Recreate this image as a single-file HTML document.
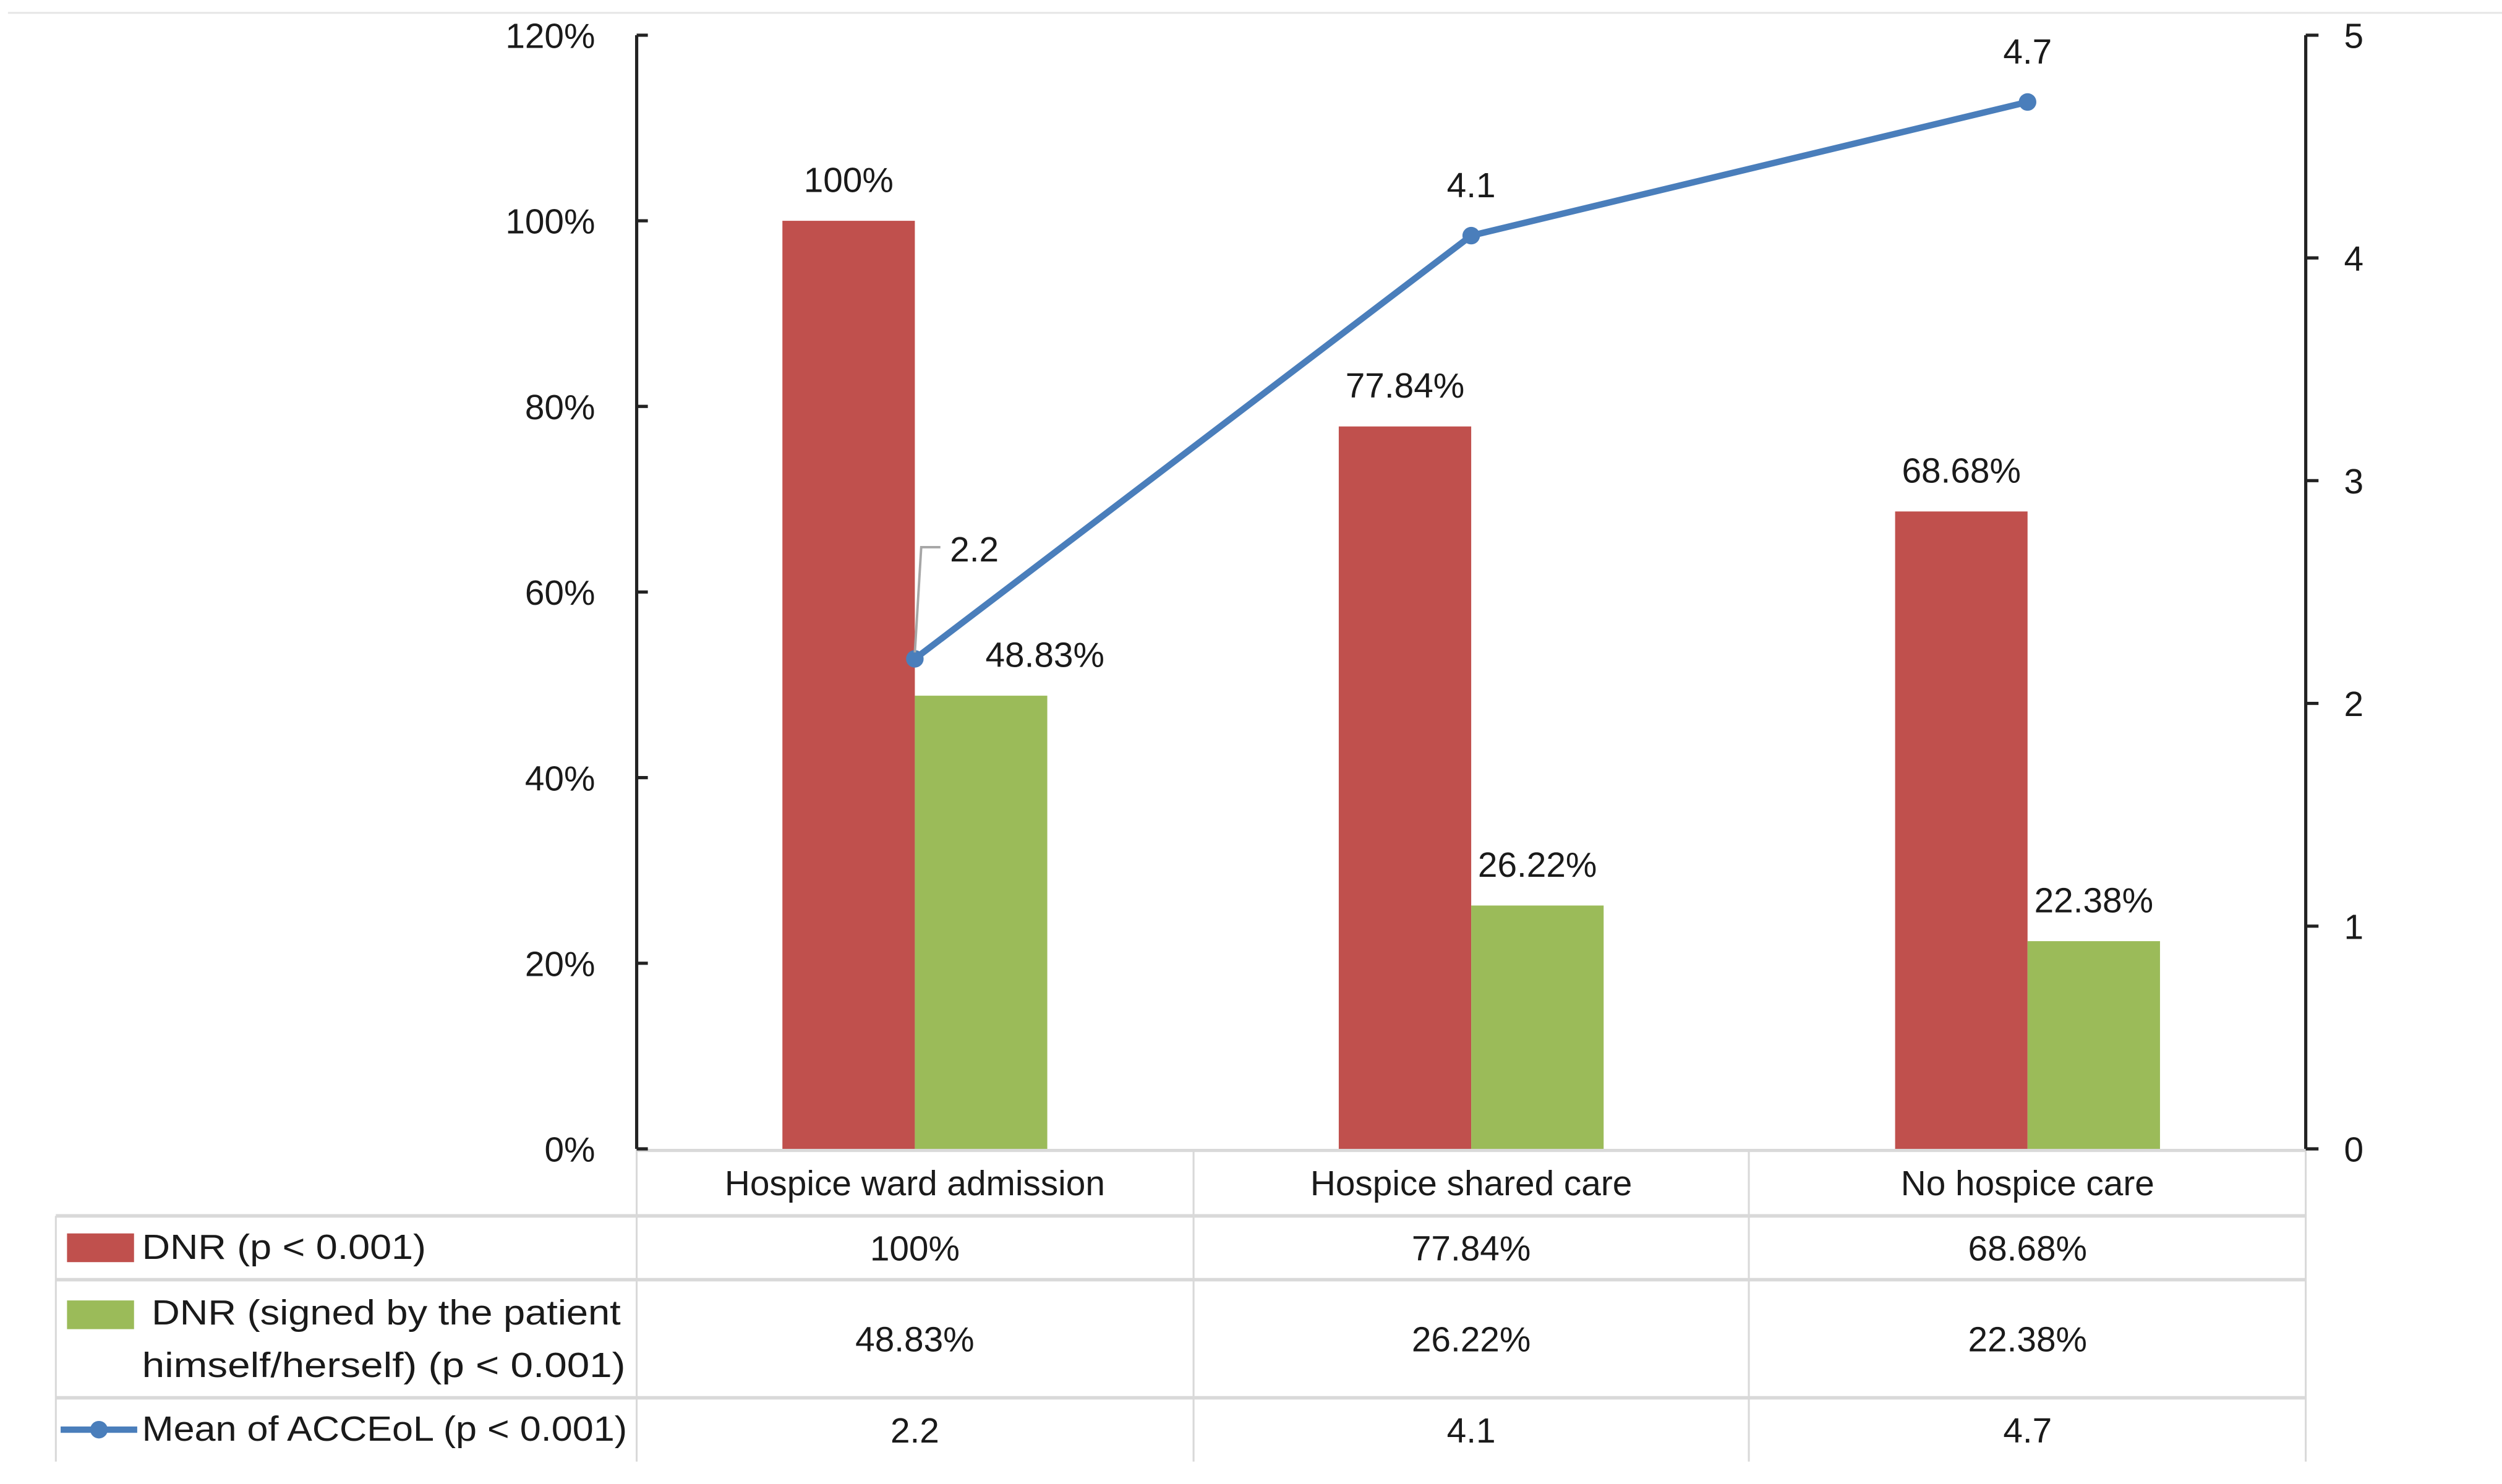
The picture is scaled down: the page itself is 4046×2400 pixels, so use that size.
<!DOCTYPE html>
<html><head><meta charset="utf-8"><style>
html,body{margin:0;padding:0;background:#fff;}
svg{display:block;}
text{font-family:"Liberation Sans",sans-serif;fill:#1a1a1a;}
</style></head><body>
<svg id="chart" width="4046" height="2400" viewBox="0 0 1568 930" xmlns="http://www.w3.org/2000/svg">
<line x1="5" y1="8" x2="1568" y2="8" stroke="#e6e6e6" stroke-width="1.2"/>
<g id="plot"></g>
</svg>
<script>
const categories = ["Hospice ward admission", "Hospice shared care", "No hospice care"];
const dnrValues = [100, 77.84, 68.68];
const dnrSelfValues = [48.83, 26.22, 22.38];
const acceolValues = [2.2, 4.1, 4.7];
const dnrLabels = ["100%", "77.84%", "68.68%"];
const dnrSelfLabels = ["48.83%", "26.22%", "22.38%"];
const acceolLabels = ["2.2", "4.1", "4.7"];
const leftTicks = [0, 20, 40, 60, 80, 100, 120];
const rightTicks = [0, 1, 2, 3, 4, 5];

const NS = "http://www.w3.org/2000/svg";
const g = document.getElementById('plot');
const X0 = 399, X1 = 1445, Y0 = 720, Y1 = 22;
const FS = 22;
const bw = (X1 - X0) / categories.length;
const yL = v => Y0 - (v / 120) * (Y0 - Y1);
const yR = v => Y0 - (v / 5) * (Y0 - Y1);
const xC = i => X0 + bw * (i + 0.5);
const barW = 83;
function mk(tag, attrs, parent) {
  const e = document.createElementNS(NS, tag);
  for (const k in attrs) e.setAttribute(k, attrs[k]);
  (parent || g).appendChild(e);
  return e;
}
function txt(s, x, y, anchor, size) {
  const t = mk('text', {x: x, y: y, 'text-anchor': anchor || 'middle', 'font-size': size || FS});
  t.textContent = s;
  return t;
}
// table grid
const grid = mk('g', {});


[762, 802, 876].forEach(y => {
  const l = mk('line', {x1: 35, y1: y, x2: X1, y2: y, stroke: '#d9d9d9', 'stroke-width': 2.2}, grid);
  
  
});
[35, 399, 748, 1096, 1445].forEach((x, i) => {
  const l = mk('line', {x1: x, y1: i === 0 ? 762 : 720, x2: x, y2: 916, stroke: '#d9d9d9', 'stroke-width': 1.2}, grid);
  
  
});
mk('line', {x1: X0, y1: Y0 + 1, x2: X1, y2: Y0 + 1, stroke: '#d9d9d9', 'stroke-width': 2}, grid);

// bars
categories.forEach((c, i) => {
  const r = mk('rect', {x: xC(i) - barW, y: yL(dnrValues[i]), width: barW, height: Y0 - yL(dnrValues[i]), fill: '#C0504D'});
  
  
  const r2 = mk('rect', {x: xC(i), y: yL(dnrSelfValues[i]), width: barW, height: Y0 - yL(dnrSelfValues[i]), fill: '#9BBB59'});
  
  
  const t1 = txt(dnrLabels[i], xC(i) - barW / 2, yL(dnrValues[i]) - 18);
  
  
  const t2 = txt(dnrSelfLabels[i], xC(i) + barW / 2 + (i === 0 ? 40 : 0), yL(dnrSelfValues[i]) - 18);
  
  
});

// axes
const ax = mk('line', {x1: X0, y1: Y1, x2: X0, y2: Y0, stroke: '#222', 'stroke-width': 2});


leftTicks.forEach(v => {
  mk('line', {x1: X0, y1: yL(v), x2: X0 + 7, y2: yL(v), stroke: '#222', 'stroke-width': 2});
  const t = txt(v + '%', 373, yL(v) + 8, 'end');
  
  
});
const ax2 = mk('line', {x1: X1, y1: Y1, x2: X1, y2: Y0, stroke: '#222', 'stroke-width': 2});


rightTicks.forEach(v => {
  mk('line', {x1: X1, y1: yR(v), x2: X1 + 8, y2: yR(v), stroke: '#222', 'stroke-width': 2});
  const t = txt(String(v), 1469, yR(v) + 8, 'start');
  
  
});

// line series
const pts = acceolValues.map((v, i) => xC(i) + ',' + yR(v)).join(' ');
const pl = mk('polyline', {points: pts, fill: 'none', stroke: '#4A7EBB', 'stroke-width': 4, 'stroke-linejoin': 'round'});


acceolValues.forEach((v, i) => {
  const c = mk('circle', {cx: xC(i), cy: yR(v), r: 5.5, fill: '#4A7EBB'});
  
  
  let t;
  if (i === 0) {
    mk('polyline', {points: xC(i) + ',' + (yR(v) - 4) + ' ' + (xC(i) + 4) + ',' + (yR(v) - 70) + ' ' + (xC(i) + 16) + ',' + (yR(v) - 70), fill: 'none', stroke: '#a6a6a6', 'stroke-width': 1.5});
    t = txt(acceolLabels[i], xC(i) + 22, yR(v) - 61, 'start');
  } else {
    t = txt(acceolLabels[i], xC(i), yR(v) - 24);
  }
  
  
});

// table text
categories.forEach((c, i) => {
  const t = txt(c, xC(i), 749);
  
  
  const a = txt(dnrLabels[i], xC(i), 790);
  
  
  const b = txt(dnrSelfLabels[i], xC(i), 847);
  
  
  const d = txt(acceolLabels[i], xC(i), 904);
  
  
});
// legend keys
const k1 = mk('rect', {x: 42, y: 773, width: 42, height: 18, fill: '#C0504D'});


const l1 = txt('DNR  (p < 0.001)', 89, 789, 'start');


l1.setAttribute('textLength', '178');
l1.setAttribute('lengthAdjust', 'spacingAndGlyphs');
const k2 = mk('rect', {x: 42, y: 815, width: 42, height: 18, fill: '#9BBB59'});


const l2 = txt('DNR (signed by the patient', 95, 830, 'start');


l2.setAttribute('textLength', '294');
l2.setAttribute('lengthAdjust', 'spacingAndGlyphs');
const l2b = txt('himself/herself)  (p < 0.001)', 89, 863, 'start');


l2b.setAttribute('textLength', '303');
l2b.setAttribute('lengthAdjust', 'spacingAndGlyphs');
const k3 = mk('line', {x1: 38, y1: 896, x2: 86, y2: 896, stroke: '#4A7EBB', 'stroke-width': 4});


mk('circle', {cx: 62, cy: 896, r: 5.5, fill: '#4A7EBB'});
const l3 = txt('Mean of ACCEoL (p < 0.001)', 89, 903, 'start');


l3.setAttribute('textLength', '304');
l3.setAttribute('lengthAdjust', 'spacingAndGlyphs');
</script>
</body></html>
